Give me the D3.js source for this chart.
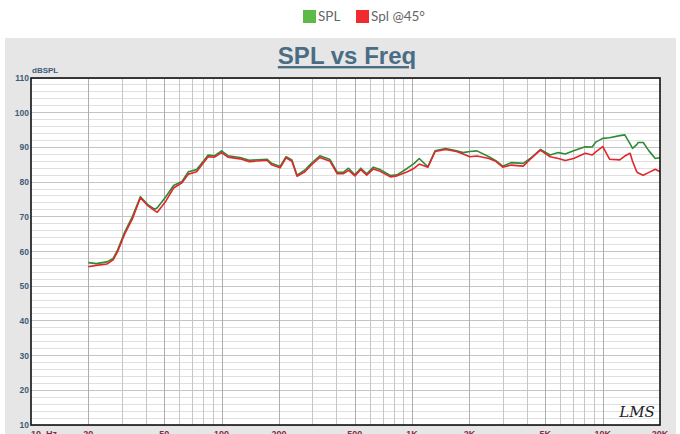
<!DOCTYPE html>
<html><head><meta charset="utf-8">
<script src="https://cdn.jsdelivr.net/npm/d3@7"></script>
<style>
html,body{margin:0;padding:0;background:#fff;}
svg{display:block;}
</style></head>
<body>
<svg id="chart" width="680" height="434"></svg>
<script>
// ---- data ----
const freqs = [20,22,25,27,28.5,31,34,37.5,41,44.5,46,51,56,62,67,74,80,85,92,100,108,125,140,173,183,203,218,234,249,274,297,328,371,405,435,464,501,538,578,626,680,769,834,945,1026,1090,1210,1320,1500,1710,1850,2010,2190,2530,2750,2990,3310,3830,4170,4710,5300,5860,6360,7040,8100,8800,9240,10020,10870,12300,13070,13940,14350,15100,15370,16330,17500,18880,20000];
const splValues = [56.8,56.5,57.0,58.0,60.5,65.5,70.0,75.8,73.5,72.2,72.6,75.8,79.0,80.2,83.0,83.6,85.9,87.8,87.6,89.0,87.6,87.1,86.3,86.6,85.4,84.5,87.3,86.4,82.0,83.5,85.5,87.6,86.5,82.8,82.8,84.0,82.1,84.0,82.4,84.3,83.6,81.9,82.1,84.0,85.4,86.8,84.4,89.0,89.7,89.0,88.5,88.8,89.0,87.3,86.2,84.6,85.6,85.4,86.8,89.4,87.8,88.5,88.1,89.0,90.2,90.1,91.6,92.6,92.8,93.4,93.6,91.0,89.7,90.8,91.4,91.4,89.0,86.8,87.0];
const spl45Values = [55.6,56.0,56.4,57.6,60.0,65.0,69.3,75.5,73.2,71.8,71.3,74.5,78.3,79.8,82.3,83.0,85.4,87.3,87.2,88.5,87.2,86.7,85.9,86.3,85.0,84.1,87.0,86.0,81.7,83.0,85.0,87.1,86.0,82.4,82.4,83.4,81.8,83.6,82.0,83.8,83.1,81.5,81.8,83.0,84.0,85.2,84.3,88.8,89.4,88.8,88.1,87.3,87.5,86.8,86.0,84.3,84.9,84.6,86.6,89.2,87.3,86.8,86.2,86.8,88.3,87.8,88.8,90.2,86.6,86.4,87.5,88.3,86.0,83.0,82.6,82.0,82.8,83.7,83.0];
const seriesNames = ["SPL", "Spl @45°"];
const yTicks = [10,20,30,40,50,60,70,80,90,100,110];
const xTickValues = [10,20,50,100,200,500,1000,2000,5000,10000,20000];
const xTickLabels = ["10  Hz","20","50","100","200","500","1K","2K","5K","10K","20K"];

// ---- layout ----
const svg = d3.select("#chart");
const L = 31, R = 660, T = 78, B = 425;
const x = d3.scaleLog().domain([10, 20000]).range([L, R]);
const y = d3.scaleLinear().domain([10, 110]).range([B, T]);
const colors = ["#2f8a35", "#e3262b"];

// gray panel
svg.append("rect").attr("x",5).attr("y",38).attr("width",671).attr("height",400).attr("fill","#e6e6e6");
// plot bg
svg.append("rect").attr("x",L).attr("y",T).attr("width",R-L).attr("height",B-T).attr("fill","#fff");

// grid - horizontal
const g = svg.append("g");
d3.range(10, 111, 2).forEach(v => {
  g.append("line").attr("x1",L).attr("x2",R).attr("y1",y(v)).attr("y2",y(v))
    .attr("stroke", v % 10 === 0 ? "#c4c4c4" : "#e0e0e0").attr("stroke-width",1).attr("shape-rendering","crispEdges");
});
// grid - vertical
const vlines = [];
[10,100,1000,10000].forEach(d => { for (let k=1;k<=9;k++){ const f=d*k; if (f>10 && f<20000) vlines.push(f);} });
vlines.forEach(f => {
  const major = [20,50,100,200,500,1000,2000,5000,10000].includes(f);
  g.append("line").attr("y1",T).attr("y2",B).attr("x1",Math.round(x(f))+0.5).attr("x2",Math.round(x(f))+0.5)
    .attr("stroke", major ? "#adadad" : "#c6c6c6").attr("stroke-width",1);
});

// lines
const line = d3.line().x((d,i)=>x(freqs[i])).y(d=>y(d)).curve(d3.curveLinear);
[splValues, spl45Values].forEach((vals, i) => {
  svg.append("path").datum(vals).attr("d", line).attr("fill","none")
    .attr("stroke", colors[i]).attr("stroke-width",1.6).attr("stroke-linejoin","round");
});

// border
svg.append("rect").attr("x",L).attr("y",T).attr("width",R-L).attr("height",B-T)
  .attr("fill","none").attr("stroke","#111").attr("stroke-width",1.6);

// y tick labels
svg.append("g").selectAll("text").data(yTicks).join("text")
  .attr("x", L-2).attr("y", d => y(d)+3)
  .attr("text-anchor","end").attr("font-family","Liberation Sans, Arial, sans-serif")
  .attr("font-size", 8.5).attr("font-weight","bold").attr("fill","#3e5c78").text(d=>d);
svg.append("text").attr("x", L+1).attr("y", 73).attr("font-family","Liberation Sans, Arial, sans-serif")
  .attr("font-size", 8).attr("fill","#3e5c78").attr("font-weight","bold").text("dBSPL");

// x tick labels
svg.append("g").selectAll("text").data(xTickValues).join("text")
  .attr("x", (d,i) => i===0 ? L : x(d)).attr("y", 437)
  .attr("text-anchor", (d,i)=> i===0 ? "start" : "middle")
  .attr("font-family","Liberation Sans, Arial, sans-serif").attr("font-size", 9).attr("font-weight","bold")
  .attr("fill","#8a2a45").attr("xml:space","preserve").style("white-space","pre").text((d,i)=>xTickLabels[i]);

// title
svg.append("text").attr("x", 347).attr("y", 64).attr("text-anchor","middle")
  .attr("font-family","Liberation Sans, Arial, sans-serif").attr("font-size", 24).attr("font-weight","bold")
  .attr("fill","#4a6d85").attr("text-decoration","underline").text("SPL vs Freq");

// LMS logo
svg.append("text").attr("x", 637).attr("y", 417).attr("text-anchor","middle")
  .attr("font-family","DejaVu Serif, serif").attr("font-style","italic").attr("font-size", 15)
  .attr("fill","#222").text("LMS");

// legend
const leg = svg.append("g");
const legX = [303, 356];
seriesNames.forEach((n,i) => {
  leg.append("rect").attr("x",legX[i]).attr("y",10).attr("width",13).attr("height",13).attr("fill", i===0 ? "#5cba47" : "#ef2b2d");
  leg.append("text").attr("x",legX[i]+15).attr("y",21).attr("font-family","Lato, sans-serif")
    .attr("font-size",13.5).attr("fill","#666").text(n);
});
</script>
</body></html>
